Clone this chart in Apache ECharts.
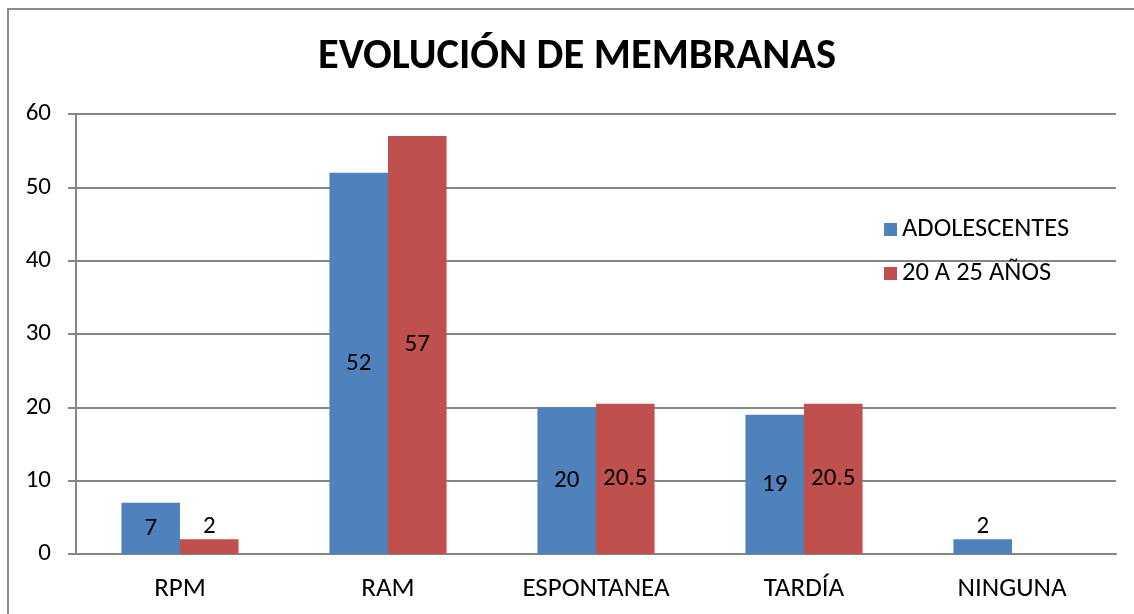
<!DOCTYPE html>
<html>
<head>
    <meta charset="utf-8">
    <title>Evolución de membranas</title>
    <script src="https://cdn.jsdelivr.net/npm/echarts@6/dist/echarts.min.js"></script>
    <style>
        html, body { margin: 0; padding: 0; background: #fff; overflow: hidden; }
        #frame { position: absolute; left: 7px; top: 8px; width: 1200px; height: 700px;
                 border-left: 2px solid #8a8a8a; border-top: 2px solid #8a8a8a; }
        #chart { position: absolute; left: 0; top: 0; width: 1134px; height: 614px; }
    </style>
</head>
<body>
<div id="frame"></div>
<div id="chart"></div>
<script type="text/javascript">
    // datos del gráfico
    var categorias = ['RPM', 'RAM', 'ESPONTANEA', 'TARDÍA', 'NINGUNA'];
    var adolescentes = [7, 52, 20, 19, 2];
    var de20a25 = [2, 57, 20.5, 20.5, null];

    var fuente = 'Carlito, "Liberation Sans", "Open Sans", sans-serif';

    // etiquetas: dentro de la barra, encima si la barra es muy baja
    function conEtiquetas(valores) {
        return valores.map(function (v) {
            if (v === null) return v;
            return {
                value: v,
                label: v < 4 ? { position: 'top', distance: 0 } : { position: 'inside' }
            };
        });
    }

    var myChart = echarts.init(document.getElementById('chart'));
    myChart.setOption({
        animation: false,
        textStyle: { fontFamily: fuente },
        title: {
            text: 'EVOLUCIÓN DE MEMBRANAS',
            left: 313,
            top: 31,
            textStyle: { fontSize: 42.5, fontWeight: 'bold', color: '#000', fontFamily: fuente }
        },
        legend: {
            orient: 'vertical',
            left: 879,
            top: 211,
            itemWidth: 13,
            itemHeight: 13,
            itemGap: 17,
            icon: 'rect',
            textStyle: { fontSize: 26.5, color: '#000', fontFamily: fuente, padding: [0, 0, 0, 0] },
            data: ['ADOLESCENTES', '20 A 25 AÑOS']
        },
        grid: { left: 76, right: 18, top: 114, bottom: 60 },
        xAxis: {
            type: 'category',
            data: categorias,
            axisLine: { lineStyle: { color: '#868686', width: 2 } },
            axisTick: { length: 8, lineStyle: { color: '#868686', width: 2 } },
            axisLabel: { fontSize: 27, color: '#000', margin: 22, fontFamily: fuente }
        },
        yAxis: {
            type: 'value',
            min: 0,
            max: 60,
            interval: 10,
            axisLine: { show: true, lineStyle: { color: '#868686', width: 2 } },
            axisTick: { show: true, length: 8, lineStyle: { color: '#868686', width: 2 } },
            axisLabel: { fontSize: 25, color: '#000', margin: 25, fontFamily: fuente },
            splitLine: { lineStyle: { color: '#868686', width: 2 } }
        },
        series: [{
            name: 'ADOLESCENTES',
            type: 'bar',
            barGap: '0%',
            barCategoryGap: '43.7%',
            itemStyle: { color: '#4F81BD' },
            label: { show: true, fontSize: 25, color: '#000', fontFamily: fuente },
            data: conEtiquetas(adolescentes)
        }, {
            name: '20 A 25 AÑOS',
            type: 'bar',
            barGap: '0%',
            barCategoryGap: '43.7%',
            itemStyle: { color: '#C0504D' },
            label: { show: true, fontSize: 25, color: '#000', fontFamily: fuente },
            data: conEtiquetas(de20a25)
        }]
    });
</script>
</body>
</html>
